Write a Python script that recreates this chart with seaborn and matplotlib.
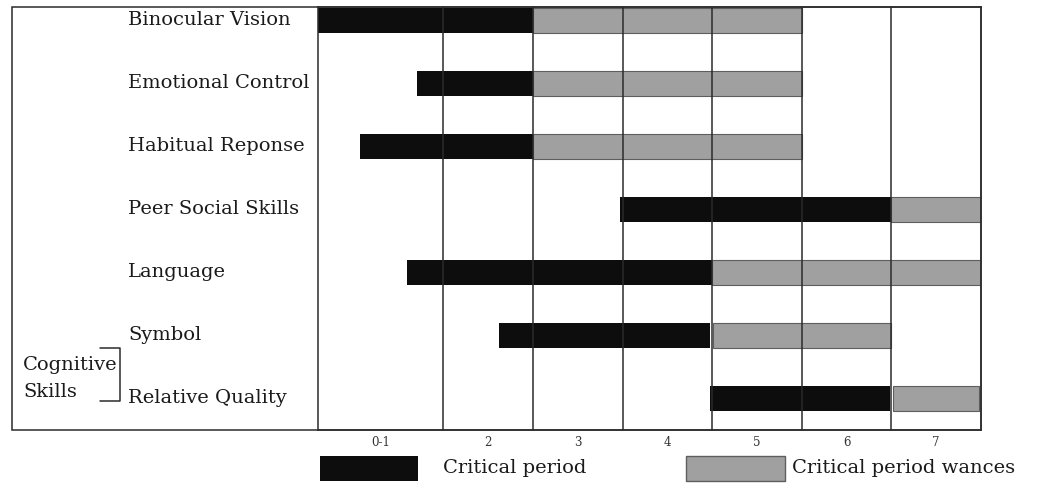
import seaborn as sns
import matplotlib.pyplot as plt
import matplotlib.transforms as mtransforms
from matplotlib.patches import Rectangle
from matplotlib.lines import Line2D
import pandas as pd

# skills, top to bottom
skills = ["Binocular Vision", "Emotional Control", "Habitual Reponse",
          "Peer Social Skills", "Language", "Symbol", "Relative Quality"]
# critical period (black) and period when it wanes (gray), in age units
crit_start = [0.1, 1.2, 0.57, 3.47, 1.09, 2.12, 4.47]
crit_end = [2.5, 2.5, 2.5, 6.5, 4.5, 4.47, 6.48]
wane_start = [2.5, 2.5, 2.5, 6.5, 4.5, 4.51, 6.52]
wane_end = [5.5, 5.5, 5.5, 7.5, 7.5, 6.49, 7.48]

age_labels = ["0-1", "2", "3", "4", "5", "6", "7"]
col_edges = [0.1, 1.5, 2.5, 3.5, 4.5, 5.5, 6.5, 7.5]

df = pd.DataFrame({"skill": skills, "cs": crit_start, "ce": crit_end,
                   "ws": wane_start, "we": wane_end})
df["crit_len"] = df["ce"] - df["cs"]
df["wane_len"] = df["we"] - df["ws"]

sns.set_style("white")
plt.rcParams["font.family"] = ["DejaVu Serif"]

W, H = 1037, 484
line_col = "#2b2b2b"
txt_col = "#1a1a1a"
fs = 14
fig = plt.figure(figsize=(W / 100, H / 100), dpi=100)
ax = fig.add_axes([318 / W, 1 - 430 / H, (981 - 318) / W, 423 / H])

sns.barplot(data=df, x="wane_len", y="skill", left=df["ws"].to_numpy(),
            orient="y", width=0.4, color="#a0a0a0", saturation=1,
            edgecolor="#5e5e5e", linewidth=0.8, errorbar=None, ax=ax)
sns.barplot(data=df, x="crit_len", y="skill", left=df["cs"].to_numpy(),
            orient="y", width=0.4, color="#0d0d0d", saturation=1,
            linewidth=0, errorbar=None, ax=ax)

ax.set_xlim(col_edges[0], col_edges[-1])
ax.set_ylim(6.5, -0.214)
# first column is wider, its label sits in the middle of it
centers = [(col_edges[0] + col_edges[1]) / 2] + [int(l) for l in age_labels[1:]]
ax.set_xticks(centers)
ax.set_xticklabels(age_labels, fontsize=8.5, color="#333333")
ax.tick_params(length=0, pad=4)
ax.set_yticks([])
ax.set_xlabel("")
ax.set_ylabel("")
for x in col_edges[1:-1]:
    ax.axvline(x, color=line_col, lw=1.1, zorder=3)
for sp in ax.spines.values():
    sp.set_color(line_col)
    sp.set_linewidth(1.1)

# skill names, left aligned in the label column
trans = mtransforms.blended_transform_factory(ax.transAxes, ax.transData)
for i, s in enumerate(skills):
    ax.text((128 - 318) / (981 - 318), i, s, transform=trans,
            ha="left", va="center", fontsize=fs, color=txt_col)

# outer frame
fig.add_artist(Rectangle((12 / W, 1 - 430 / H), (981 - 12) / W, 423 / H,
                         transform=fig.transFigure, fill=False,
                         ec=line_col, lw=1.1))

# cognitive skills bracket
fig.text(23 / W, 1 - 365 / H, "Cognitive", fontsize=fs, va="center", color=txt_col)
fig.text(23 / W, 1 - 392 / H, "Skills", fontsize=fs, va="center", color=txt_col)
fig.add_artist(Line2D([100 / W, 120 / W, 120 / W, 100 / W],
                      [1 - 348 / H, 1 - 348 / H, 1 - 401 / H, 1 - 401 / H],
                      transform=fig.transFigure, color=line_col, lw=1.1))

# legend
fig.add_artist(Rectangle((320 / W, 1 - 481 / H), 98 / W, 25 / H,
                         transform=fig.transFigure, fc="#0d0d0d", ec="none"))
fig.text(443 / W, 1 - 468 / H, "Critical period", fontsize=fs, va="center", color=txt_col)
fig.add_artist(Rectangle((686 / W, 1 - 481 / H), 99 / W, 25 / H,
                         transform=fig.transFigure, fc="#a0a0a0", ec="#5e5e5e", lw=1))
fig.text(792 / W, 1 - 468 / H, "Critical period wances", fontsize=fs, va="center", color=txt_col)

fig.savefig("out.png", dpi=100)
